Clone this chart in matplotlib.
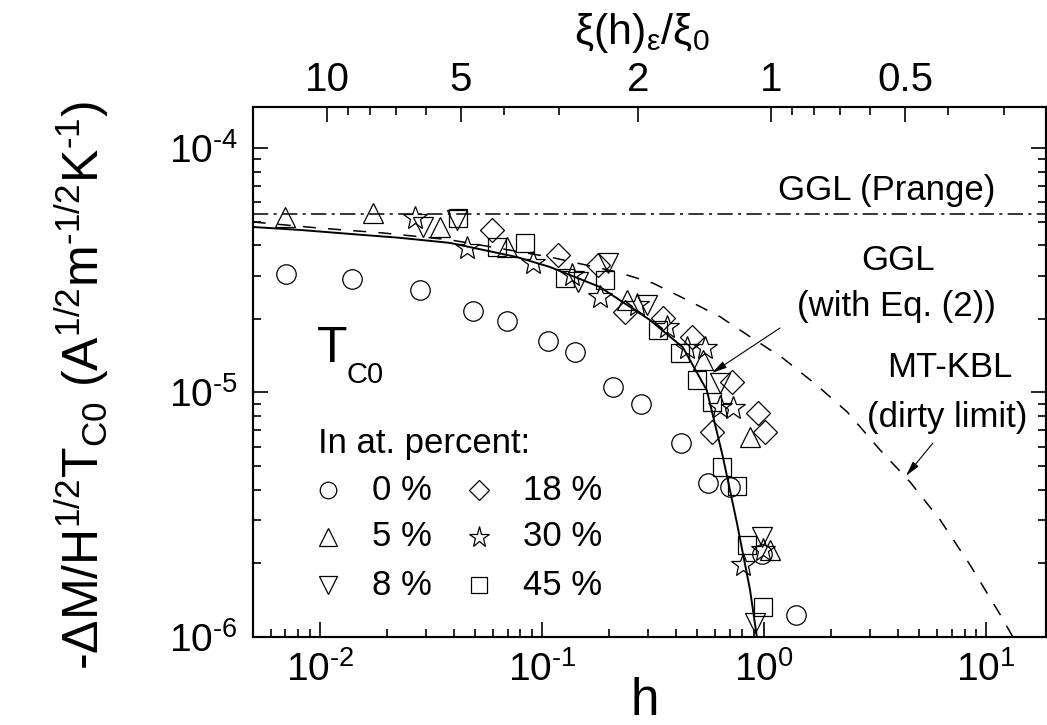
import matplotlib
matplotlib.use('Agg')
import matplotlib.pyplot as plt
from matplotlib.ticker import (FixedLocator, FixedFormatter, NullFormatter,
                               LogLocator, FuncFormatter)
import math

plt.rcParams.update({
    'font.family': ['Liberation Sans', 'DejaVu Sans'],
    'mathtext.fontset': 'custom',
    'mathtext.rm': 'Liberation Sans',
    'mathtext.it': 'Liberation Sans:italic',
    'mathtext.bf': 'Liberation Sans:bold',
    'axes.unicode_minus': False,
})

# ---------------- data ----------------
h_0 = [0.00703, 0.0139, 0.0282, 0.0489, 0.0695, 0.106, 0.141, 0.209, 0.279,
       0.423, 0.560, 0.703, 0.980, 1.39]
m_0 = [3.06e-5, 2.91e-5, 2.63e-5, 2.15e-5, 1.96e-5, 1.62e-5, 1.46e-5, 1.05e-5,
       8.97e-6, 6.22e-6, 4.26e-6, 4.11e-6, 2.19e-6, 1.23e-6]

h_5 = [0.00695, 0.0173, 0.0347, 0.0695, 0.242, 0.531, 0.865, 1.064]
m_5 = [5.22e-5, 5.42e-5, 4.75e-5, 3.94e-5, 2.39e-5, 1.36e-5, 6.58e-6, 2.27e-6]

h_8 = [0.0291, 0.0414, 0.145, 0.198, 0.297, 0.634, 0.980, 0.910]
m_8 = [4.75e-5, 5.08e-5, 2.83e-5, 3.39e-5, 2.28e-5, 1.09e-5, 2.56e-6, 1.14e-6]

h_18 = [0.0596, 0.118, 0.179, 0.237, 0.351, 0.474, 0.718, 0.583, 0.940, 1.011]
m_18 = [4.62e-5, 3.65e-5, 3.32e-5, 2.13e-5, 2.02e-5, 1.69e-5, 1.10e-5, 6.89e-6,
        8.24e-6, 6.89e-6]

h_30 = [0.0268, 0.0459, 0.0910, 0.136, 0.182, 0.268, 0.366, 0.450, 0.542,
        0.634, 0.724, 0.989, 0.803]
m_30 = [5.17e-5, 3.90e-5, 3.39e-5, 3.03e-5, 2.46e-5, 2.28e-5, 1.85e-5, 1.52e-5,
        1.52e-5, 8.73e-6, 8.64e-6, 2.27e-6, 1.97e-6]

h_45 = [0.0419, 0.0626, 0.0838, 0.127, 0.192, 0.334, 0.419, 0.499, 0.583,
        0.647, 0.755, 0.837, 0.989]
m_45 = [5.17e-5, 3.94e-5, 4.09e-5, 2.94e-5, 2.88e-5, 1.80e-5, 1.45e-5, 1.12e-5,
        9.15e-6, 4.96e-6, 4.15e-6, 2.38e-6, 1.33e-6]

# GGL with Eq. (2)  (solid)
h_ggl = [0.00499, 0.00813, 0.01365, 0.0229, 0.0385, 0.0771, 0.1086, 0.1824,
         0.306, 0.431, 0.553, 0.653, 0.755, 0.865, 0.929]
m_ggl = [4.75e-5, 4.62e-5, 4.45e-5, 4.29e-5, 4.09e-5, 3.58e-5, 3.26e-5, 2.70e-5,
         1.98e-5, 1.53e-5, 1.02e-5, 5.45e-6, 2.93e-6, 1.56e-6, 1.0e-6]

# MT-KBL dirty limit (dashed)
h_mt = [0.00499, 0.0097, 0.0192, 0.0385, 0.1086, 0.218, 0.316, 0.450, 0.634,
        0.865, 1.218, 1.73, 2.37, 3.33, 4.55, 6.21, 8.47, 11.6, 13.2]
m_mt = [4.98e-5, 4.71e-5, 4.49e-5, 4.21e-5, 3.58e-5, 3.11e-5, 2.80e-5, 2.39e-5,
        2.04e-5, 1.69e-5, 1.38e-5, 1.07e-5, 8.32e-6, 5.82e-6, 4.30e-6, 3.01e-6,
        1.97e-6, 1.23e-6, 1.0e-6]

# GGL (Prange) level (dash-dot)
prange_level = 5.35e-5

# top axis: xi(h)/xi0, related by h = c / xi^2
xi_c = 1.08
xi_major = [10, 5, 2, 1, 0.5]
xi_major_labels = ['10', '5', '2', '1', '0.5']
xi_minor = [9, 8, 7, 6, 4, 3, 0.9, 0.8, 0.7, 0.6, 0.4, 0.3]

legend_labels = ['0 %', '5 %', '8 %', '18 %', '30 %', '45 %']


def pow10_label(v, pos):
    e = int(round(math.log10(v)))
    if e < 0:
        return r'$\mathregular{10^{\text{-}%d}}$' % (-e)
    return r'$\mathregular{10^{%d}}$' % e


# ---------------- figure ----------------
fig = plt.figure(figsize=(10.47, 7.25), dpi=100)
ax = fig.add_axes([0.2416, 0.1214, 0.7574, 0.731])
ax.set_xscale('log')
ax.set_yscale('log')
ax.set_xlim(0.005, 18.6)
ax.set_ylim(1e-6, 1.47e-4)

ax.axhline(prange_level, color='k', lw=1.1, dashes=[10, 3.5, 2, 3.5])
ax.plot(h_ggl, m_ggl, color='k', lw=1.4)
ax.plot(h_mt, m_mt, color='k', lw=1.1, dashes=(8.5, 8))

mkw = dict(ls='none', mfc='none', mec='k', mew=0.9)
styles = [('o', 14), ('^', 15), ('v', 15), ('D', 12), ('*', 18), ('s', 13)]
series = [(h_0, m_0), (h_5, m_5), (h_8, m_8), (h_18, m_18), (h_30, m_30), (h_45, m_45)]
for (hx, my), (mk, ms) in zip(series, styles):
    ax.plot(hx, my, marker=mk, ms=ms, **mkw)

# axes / ticks
for s in ax.spines.values():
    s.set_linewidth(1.5)
ax.tick_params(which='both', direction='in', top=False, right=True, width=1.2,
               labelsize=28)
ax.tick_params(which='major', length=11)
ax.tick_params(which='minor', length=6)
ax.tick_params(axis='y', pad=11)
ax.tick_params(axis='x', pad=10)
ax.xaxis.set_major_locator(LogLocator(base=10, numticks=10))
ax.xaxis.set_minor_locator(LogLocator(base=10, subs=range(2, 10), numticks=30))
ax.yaxis.set_minor_locator(LogLocator(base=10, subs=range(2, 10), numticks=30))
ax.xaxis.set_major_formatter(FuncFormatter(pow10_label))
ax.yaxis.set_major_formatter(FuncFormatter(pow10_label))
ax.yaxis.set_minor_formatter(NullFormatter())
ax.xaxis.set_minor_formatter(NullFormatter())

ax.set_xlabel('h', fontsize=37, va='center')
ax.xaxis.set_label_coords(0.494, -0.122)
ax.set_ylabel(r'-$\Delta$M/H$^{1/2}$T$_{\mathregular{C0}}$ '
              r'(A$^{1/2}$m$^{\text{-}1/2}$K$^{\text{-}1}$)',
              fontsize=36, va='center')
ax.yaxis.set_label_coords(-0.215, 0.475)

# top axis
ax2 = ax.twiny()
ax2.set_xscale('log')
ax2.set_xlim(ax.get_xlim())
ax2.xaxis.set_major_locator(FixedLocator([xi_c / x ** 2 for x in xi_major]))
ax2.xaxis.set_major_formatter(FixedFormatter(xi_major_labels))
ax2.xaxis.set_minor_locator(FixedLocator([xi_c / x ** 2 for x in xi_minor]))
ax2.xaxis.set_minor_formatter(NullFormatter())
ax2.tick_params(axis='x', which='both', direction='in', width=1.2, labelsize=29, pad=6)
ax2.tick_params(axis='x', which='major', length=11)
ax2.tick_params(axis='x', which='minor', length=6)
ax2.set_xlabel(r'ξ(h)$_{\mathregular{ε}}$/ξ$_{\mathregular{0}}$', fontsize=31,
               va='center')
ax2.xaxis.set_label_coords(0.49, 1.14)
for s in ax2.spines.values():
    s.set_linewidth(1.5)

# annotations
tr = ax.transAxes
ax.text(0.7995, 0.8434, 'GGL (Prange)', transform=tr, fontsize=25, ha='center', va='center')
ax.text(0.8134, 0.711, 'GGL', transform=tr, fontsize=25, ha='center', va='center')
ax.text(0.812, 0.623, '(with Eq. (2))', transform=tr, fontsize=25, ha='center', va='center')
ax.text(0.879, 0.509, 'MT-KBL', transform=tr, fontsize=25, ha='center', va='center')
ax.text(0.876, 0.415, '(dirty limit)', transform=tr, fontsize=25, ha='center', va='center')
arrow = dict(arrowstyle='-|>,head_length=0.9,head_width=0.22', color='k', lw=0.8,
             shrinkA=0, shrinkB=0)
ax.annotate('', xy=(0.5788, 0.498), xytext=(0.6646, 0.583), xycoords=tr,
            textcoords=tr, arrowprops=arrow)
ax.annotate('', xy=(0.8235, 0.304), xytext=(0.8575, 0.366), xycoords=tr,
            textcoords=tr, arrowprops=arrow)

ax.text(0.0807, 0.519, 'T', transform=tr, fontsize=36, ha='left', va='baseline')
ax.text(0.1185, 0.479, 'C0', transform=tr, fontsize=21, ha='left', va='baseline')

# in-plot legend
ax.text(0.082, 0.347, 'In at. percent:', transform=tr, fontsize=25, ha='left',
        va='baseline')
leg_x_mark = [0.0946, 0.285]
leg_x_text = [0.150, 0.340]
leg_y = [0.277, 0.189, 0.098]
for i, ((mk, ms), lab) in enumerate(zip(styles, legend_labels)):
    col, row = divmod(i, 3)
    ax.plot([leg_x_mark[col]], [leg_y[row]], marker=mk, ms=ms * 0.85,
            transform=tr, clip_on=False, **mkw)
    ax.text(leg_x_text[col], leg_y[row], lab, transform=tr, fontsize=25,
            ha='left', va='center')

fig.savefig('out.png', dpi=100)
